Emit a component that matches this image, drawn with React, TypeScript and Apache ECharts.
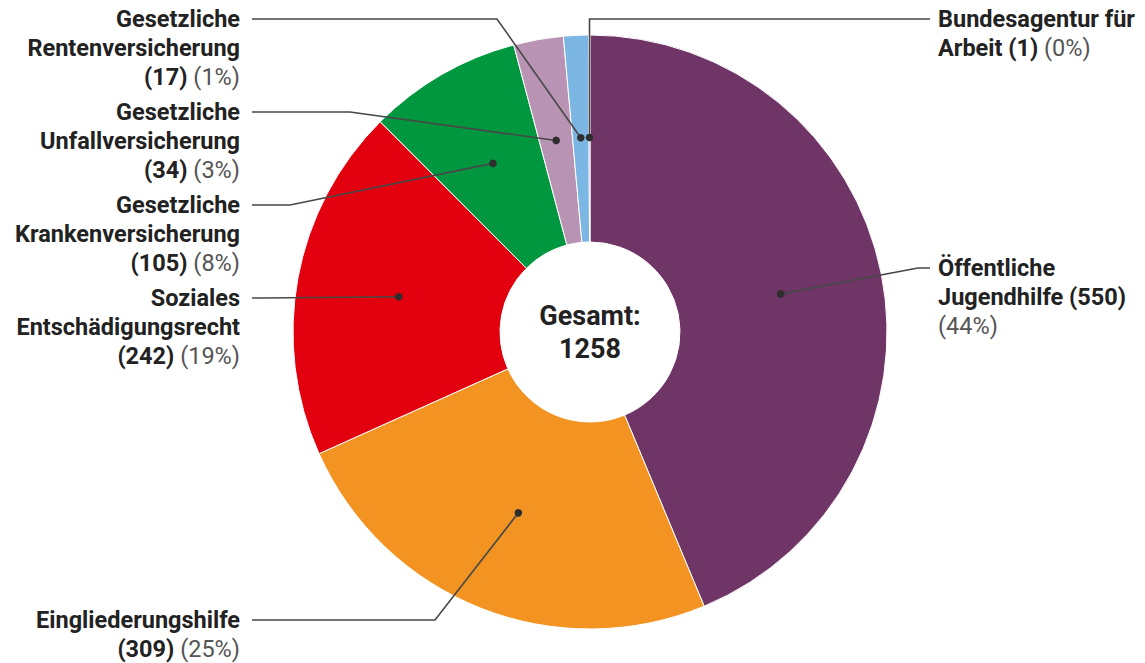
import React, { useEffect, useRef } from 'react';
import * as echarts from 'echarts';

const categories = [
  'Öffentliche\nJugendhilfe',
  'Eingliederungshilfe',
  'Soziales\nEntschädigungsrecht',
  'Gesetzliche\nKrankenversicherung',
  'Gesetzliche\nUnfallversicherung',
  'Gesetzliche\nRentenversicherung',
  'Bundesagentur für\nArbeit',
];
const values = [550, 309, 242, 105, 34, 17, 1];
const colors = ['#6e3566', '#f39422', '#e2000f', '#00973f', '#b893b3', '#7cb6e2', '#2a4d7f'];
// how name, value and percent are arranged in each label
const labelFormats = [
  '{n} {v}\n{p}',
  '{n}\n{v} {p}',
  '{n}\n{v} {p}',
  '{n}\n{v} {p}',
  '{n}\n{v} {p}',
  '{n}\n{v} {p}',
  '{n} {v} {p}',
];
const centerTitle = 'Gesamt:';

// layout only
const CX = 590;
const CY = 332;
const R0 = 90;
const R1 = 297;
const FONT = 23.5;
const LINE_H = 29;
const labelAnchors: { x: number; y: number; align: string; elbow: number[]; end: number[] }[] = [
  { x: 938, y: 268, align: 'left', elbow: [918, 268], end: [930, 268] },
  { x: 240, y: 620, align: 'right', elbow: [435, 620], end: [252, 620] },
  { x: 240, y: 298, align: 'right', elbow: [262, 298], end: [252, 298] },
  { x: 240, y: 205, align: 'right', elbow: [290, 205], end: [252, 205] },
  { x: 240, y: 112, align: 'right', elbow: [350, 112], end: [252, 112] },
  { x: 240, y: 19, align: 'right', elbow: [497, 19], end: [252, 19] },
  { x: 938, y: 19, align: 'left', elbow: [-1, 19], end: [930, 19] },
];

const total = values.reduce((a, b) => a + b, 0);

function dotPoint(i: number): number[] {
  let before = 0;
  for (let k = 0; k < i; k++) before += values[k];
  const mid = ((before + values[i] / 2) / total) * Math.PI * 2;
  const rm = (R0 + R1) / 2 + 1;
  return [CX + rm * Math.sin(mid), CY - rm * Math.cos(mid)];
}

export default function App() {
  const ref = useRef<HTMLDivElement>(null);
  useEffect(() => {
    if (!ref.current) return;
    const chart = echarts.init(ref.current, undefined, { renderer: 'svg' });
    const data = categories.map((name, i) => ({
      name,
      value: values[i],
      itemStyle: { color: colors[i] },
    }));

    const guides: any[] = [];
    labelAnchors.forEach((a, i) => {
      const d = dotPoint(i);
      const elbow = [a.elbow[0] < 0 ? d[0] : a.elbow[0], a.elbow[1]];
      guides.push({
        type: 'polyline',
        z: 10,
        silent: true,
        shape: { points: [d, elbow, a.end] },
        style: { stroke: '#484848', lineWidth: 1.6, fill: 'none' },
      });
    });
    labelAnchors.forEach((_, i) => {
      const d = dotPoint(i);
      guides.push({
        type: 'circle',
        z: 11,
        silent: true,
        shape: { cx: d[0], cy: d[1], r: 3.8 },
        style: { fill: '#2e2e2e' },
      });
    });

    chart.setOption({
      animation: false,
      backgroundColor: '#ffffff',
      textStyle: { fontFamily: 'Roboto' },
      graphic: [
        ...guides,
        {
          type: 'text',
          x: CX,
          y: CY,
          z: 100,
          style: {
            text: `${centerTitle}\n${total}`,
            fontFamily: 'Roboto',
            fontSize: 27,
            fontWeight: 'bold',
            lineHeight: 33,
            fill: '#222222',
            align: 'center',
            verticalAlign: 'middle',
          },
        },
      ],
      series: [
        {
          type: 'pie',
          center: [CX, CY],
          radius: [R0, R1],
          startAngle: 90,
          clockwise: true,
          avoidLabelOverlap: false,
          silent: true,
          emphasis: { disabled: true },
          itemStyle: { borderColor: '#ffffff', borderWidth: 1 },
          data,
          label: {
            show: true,
            position: 'outside',
            fontFamily: 'Roboto',
            fontSize: FONT,
            lineHeight: LINE_H,
            color: '#222222',
            formatter: (p: any) => {
              const nameStr = String(p.name)
                .split('\n')
                .map((s: string) => `{b|${s}}`)
                .join('\n');
              const pct = Math.round(p.percent);
              return labelFormats[p.dataIndex]
                .replace('{n}', nameStr)
                .replace('{v}', `{b|(${p.value})}`)
                .replace('{p}', `{p|(${pct}%)}`);
            },
            rich: {
              b: {
                fontFamily: 'Roboto',
                fontSize: FONT,
                fontWeight: 'bold',
                lineHeight: LINE_H,
                color: '#222222',
              },
              p: {
                fontFamily: 'Roboto',
                fontSize: FONT,
                fontWeight: 'normal',
                lineHeight: LINE_H,
                color: '#555555',
              },
            },
          },
          labelLine: { show: false },
          labelLayout: (params: any) => {
            const a = labelAnchors[params.dataIndex];
            return {
              x: a.x,
              y: a.y - LINE_H / 2,
              align: a.align,
              verticalAlign: 'top',
            };
          },
        },
      ],
    });
    return () => chart.dispose();
  }, []);
  return (
    <div
      ref={ref}
      style={{ position: 'fixed', left: 0, top: 0, width: 1145, height: 663, background: '#fff' }}
    />
  );
}
